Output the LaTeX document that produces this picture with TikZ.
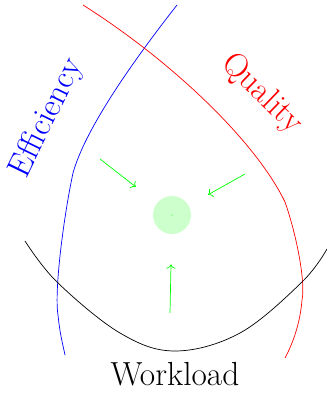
\documentclass[tikz,border=0pt]{standalone}
\usepackage{tikz}
\usetikzlibrary{arrows.meta, positioning}

\begin{document}
\begin{tikzpicture}[
  x=0.02cm, y=-0.02cm,
  arr/.style={->, draw=green},
  lbl/.style={font=\fontsize{19}{23}\selectfont, inner sep=0pt},
  opt/.style={circle, fill=green!20, minimum size=0.76cm, inner sep=0pt}
]
\useasboundingbox (0,0) rectangle (327,396);

% trade-off curves
\draw[blue] (177,5) .. controls (130,65) and (85,130) .. (73,173)
  .. controls (64,215) and (54,290) .. (58,315)
  .. controls (60,335) and (63,345) .. (65,355);
\draw[red] (83,5) .. controls (170,60) and (255,140) .. (285,202)
  .. controls (295,230) and (306,280) .. (302,300)
  .. controls (300,325) and (292,345) .. (285,358);
\draw[black] plot[smooth, tension=0.6] coordinates
  {(25,241) (57,282) (120,333) (175,351) (240,333) (302,282) (327,249)};

% labels
\node[lbl, text=blue, rotate=64] (eff) at (47,118) {Efficiency};
\node[lbl, text=red, rotate=-44] (qual) at (262,94) {Quality};
\node[lbl] (work) at (175,374) {Workload};

% optimum
\node[opt] (best) at (172,215) {};
\fill[green!40] (best.center) circle (1.2);

\coordinate (a1) at (100,159);
\coordinate (a2) at (245,174);
\coordinate (a3) at (170,313);
\draw[arr, shorten >=0.53cm] (a1) -- (best);
\draw[arr, shorten >=0.44cm] (a2) -- (best);
\draw[arr, shorten >=0.6cm] (a3) -- (best);
\end{tikzpicture}
\end{document}
